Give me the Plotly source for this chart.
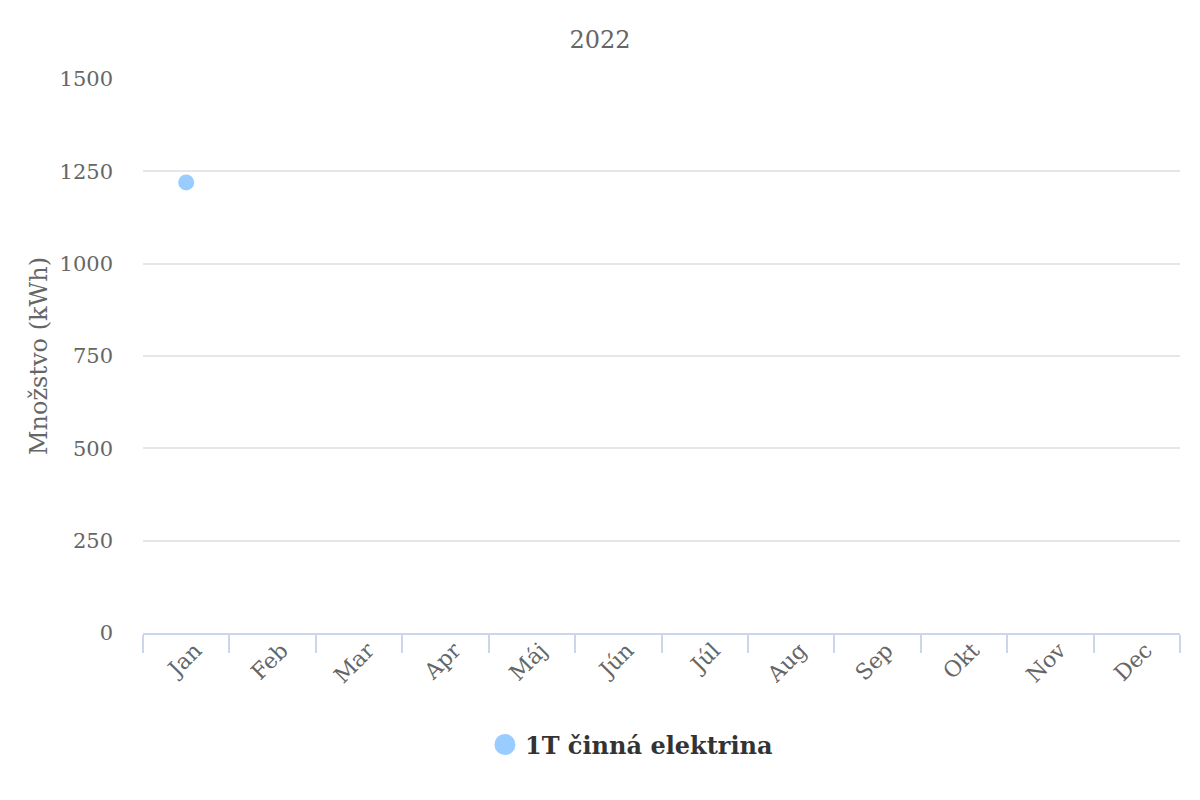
import plotly.graph_objects as go

months = ["Jan", "Feb", "Mar", "Apr", "Máj", "Jún", "Júl", "Aug", "Sep", "Okt", "Nov", "Dec"]
values = [1220, None, None, None, None, None, None, None, None, None, None, None]
series_name = "1T činná elektrina"
y_ticks = [0, 250, 500, 750, 1000, 1250, 1500]

font = "DejaVu Serif"
color = "#99CCFF"

fig = go.Figure()
fig.add_trace(go.Scatter(
    x=months, y=values, name=series_name,
    mode="markers",
    marker=dict(color=color, size=16, line=dict(width=0)),
    showlegend=False,
))
# legend-only entry with a bigger round symbol
fig.add_trace(go.Scatter(
    x=[None], y=[None], name=series_name, mode="markers",
    marker=dict(color=color, size=16, line=dict(width=10, color=color)),
))

fig.update_layout(
    width=1192, height=792,
    paper_bgcolor="white", plot_bgcolor="white",
    font=dict(family=font, color="#666666"),
    margin=dict(l=135, r=20, t=71, b=167),
    title=dict(text="2022", x=0.4966, xanchor="center", y=0.96, yanchor="middle",
               font=dict(size=24, color="#666666", family=font)),
    xaxis=dict(
        type="category", categoryorder="array", categoryarray=months,
        range=[-0.5, 11.5], tickson="boundaries", ticks="outside", ticklen=18,
        tickcolor="#ccd6eb", tickwidth=1.5, showline=True, linecolor="#ccd6eb", linewidth=1.5,
        showgrid=False, tickangle=-45, ticklabelshift=9, ticklabelstandoff=-6,
        tickfont=dict(size=22, color="#666666", family=font),
    ),
    yaxis=dict(
        range=[0, 1500], tickvals=y_ticks, showgrid=True, gridcolor="#e6e6e6", gridwidth=1.5,
        zeroline=False, showline=False, ticklabelstandoff=29,
        tickfont=dict(size=21, color="#666666", family=font),
        title=dict(text="Množstvo (kWh)", font=dict(size=24, color="#666666", family=font), standoff=5),
    ),
    legend=dict(
        orientation="h", x=0.471, xanchor="center", y=-0.202, yanchor="middle",
        font=dict(size=24, color="#333333", family=font, weight="bold"),
        itemsizing="trace",
    ),
)

fig.write_html("out.html")
